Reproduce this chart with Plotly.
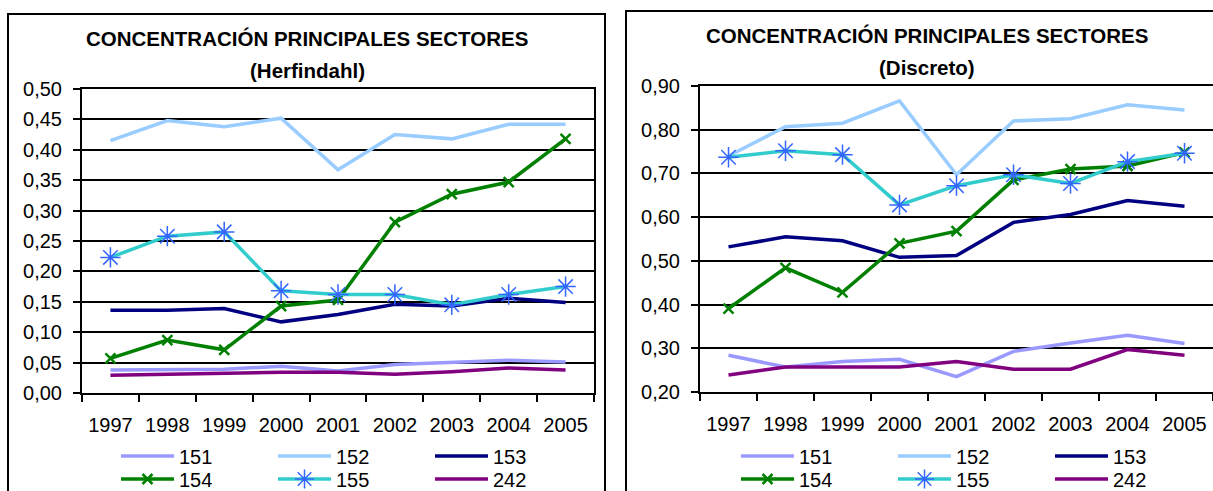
import plotly.graph_objects as go

W, H = 1213, 491
years = ["1997", "1998", "1999", "2000", "2001", "2002", "2003", "2004", "2005"]
sectors = ["151", "152", "153", "154", "155", "242"]

# Herfindahl values
h151 = [0.038, 0.038, 0.039, 0.044, 0.036, 0.047, 0.051, 0.054, 0.051]
h152 = [0.415, 0.448, 0.438, 0.452, 0.367, 0.425, 0.418, 0.442, 0.442]
h153 = [0.136, 0.136, 0.139, 0.117, 0.129, 0.146, 0.143, 0.156, 0.149]
h154 = [0.057, 0.087, 0.071, 0.143, 0.153, 0.281, 0.327, 0.347, 0.418]
h155 = [0.223, 0.258, 0.265, 0.168, 0.162, 0.162, 0.145, 0.162, 0.175]
h242 = [0.029, 0.031, 0.032, 0.034, 0.034, 0.031, 0.035, 0.041, 0.038]

# Discreto values
d151 = [0.284, 0.257, 0.270, 0.275, 0.235, 0.293, 0.312, 0.330, 0.311]
d152 = [0.740, 0.807, 0.815, 0.866, 0.697, 0.820, 0.825, 0.857, 0.845]
d153 = [0.532, 0.555, 0.546, 0.508, 0.512, 0.588, 0.606, 0.638, 0.625]
d154 = [0.391, 0.484, 0.428, 0.540, 0.568, 0.685, 0.710, 0.717, 0.748]
d155 = [0.737, 0.752, 0.743, 0.628, 0.672, 0.697, 0.677, 0.727, 0.746]
d242 = [0.239, 0.257, 0.257, 0.257, 0.270, 0.252, 0.252, 0.297, 0.284]

title_main = "CONCENTRACIÓN PRINCIPALES SECTORES"
sub_left = "(Herfindahl)"
sub_right = "(Discreto)"

colors = {"151": "#9999FF", "152": "#99CCFF", "153": "#000080",
          "154": "#008000", "155": "#33CCCC", "242": "#800080"}

FONT = "Liberation Sans, Arial, sans-serif"

def px_x(p):
    return p / W

def px_y(p):
    return 1 - p / H

fig = go.Figure()

def add_series(data, xa, ya, leg_top, leg_bot):
    for s, vals in zip(sectors, data):
        kw = dict(x=years, y=vals, name=s, xaxis=xa, yaxis=ya,
                  line=dict(color=colors[s], width=3.5),
                  legend=leg_top if s in ("151", "152", "153") else leg_bot,
                  hoverinfo="skip")
        if s == "154":
            kw["mode"] = "lines+markers"
            kw["marker"] = dict(symbol="x-thin", size=10, color=colors[s],
                                line=dict(color=colors[s], width=2.5))
        elif s == "155":
            kw["mode"] = "lines+markers"
            kw["marker"] = dict(symbol="asterisk-open", size=17, color="#3366FF",
                                line=dict(color="#3366FF", width=1.5))
        else:
            kw["mode"] = "lines"
        fig.add_trace(go.Scatter(**kw))

add_series([h151, h152, h153, h154, h155, h242], "x", "y", "legend", "legend2")
add_series([d151, d152, d153, d154, d155, d242], "x2", "y2", "legend3", "legend4")

xcommon = dict(type="category", tickson="boundaries", ticks="outside", ticklen=7,
               tickwidth=2, tickcolor="black", showline=True, linecolor="black",
               linewidth=2, showgrid=False, tickfont=dict(size=20, color="black"),
               ticklabelstandoff=13, fixedrange=True)
ycommon = dict(ticks="outside", ticklen=7, tickwidth=2, tickcolor="black",
               showline=True, linecolor="black", linewidth=2, showgrid=True,
               gridcolor="black", gridwidth=1.5, tickformat=".2f",
               tickfont=dict(size=20, color="black"), ticklabelstandoff=7,
               zeroline=False, fixedrange=True)

fig.update_layout(
    width=W, height=H, margin=dict(l=0, r=0, t=0, b=0, autoexpand=False),
    paper_bgcolor="white", plot_bgcolor="white",
    separators=",.",
    font=dict(family=FONT, color="black"),
    xaxis=dict(domain=[px_x(82), px_x(594)], anchor="y", mirror=True,
               range=[-0.5, 8.5], **xcommon),
    yaxis=dict(domain=[px_y(393), px_y(89)], anchor="x", range=[0, 0.5],
               dtick=0.05, mirror=True, **ycommon),
    xaxis2=dict(domain=[px_x(700), 1.0], anchor="y2", mirror=True,
                range=[-0.5, 8.5], **xcommon),
    yaxis2=dict(domain=[px_y(392), px_y(86)], anchor="x2", range=[0.2, 0.9],
                dtick=0.1, mirror=False, **ycommon),
    showlegend=True,
)

legcommon = dict(orientation="h", xanchor="left", yanchor="middle",
                 font=dict(size=20, color="black"), itemwidth=53,
                 entrywidth=89, entrywidthmode="pixels", bgcolor="rgba(0,0,0,0)",
                 borderwidth=0, itemclick=False, itemdoubleclick=False)
fig.update_layout(
    legend=dict(x=px_x(116), y=px_y(456), **legcommon),
    legend2=dict(x=px_x(116), y=px_y(479), **legcommon),
    legend3=dict(x=px_x(736), y=px_y(456), **legcommon),
    legend4=dict(x=px_x(736), y=px_y(479), **legcommon),
)

# chart frames
fig.add_shape(type="rect", xref="paper", yref="paper",
              x0=px_x(8), x1=px_x(605), y0=px_y(520), y1=px_y(14),
              line=dict(color="black", width=2), fillcolor="rgba(0,0,0,0)", layer="below")
fig.add_shape(type="rect", xref="paper", yref="paper",
              x0=px_x(626), x1=px_x(1240), y0=px_y(520), y1=px_y(11),
              line=dict(color="black", width=2), fillcolor="rgba(0,0,0,0)", layer="below")

def add_title(cx, y1, y2, sub):
    fig.add_annotation(text="<b>" + title_main + "</b>", x=px_x(cx), y=px_y(y1),
                       xref="paper", yref="paper", showarrow=False,
                       xanchor="center", yanchor="middle",
                       font=dict(size=20.5, color="black", family=FONT))
    fig.add_annotation(text="<b>" + sub + "</b>", x=px_x(cx), y=px_y(y2),
                       xref="paper", yref="paper", showarrow=False,
                       xanchor="center", yanchor="middle",
                       font=dict(size=20.5, color="black", family=FONT))

add_title(307, 38, 71, sub_left)
add_title(927, 35, 68, sub_right)

fig.write_html("out.html", config={"displayModeBar": False})
